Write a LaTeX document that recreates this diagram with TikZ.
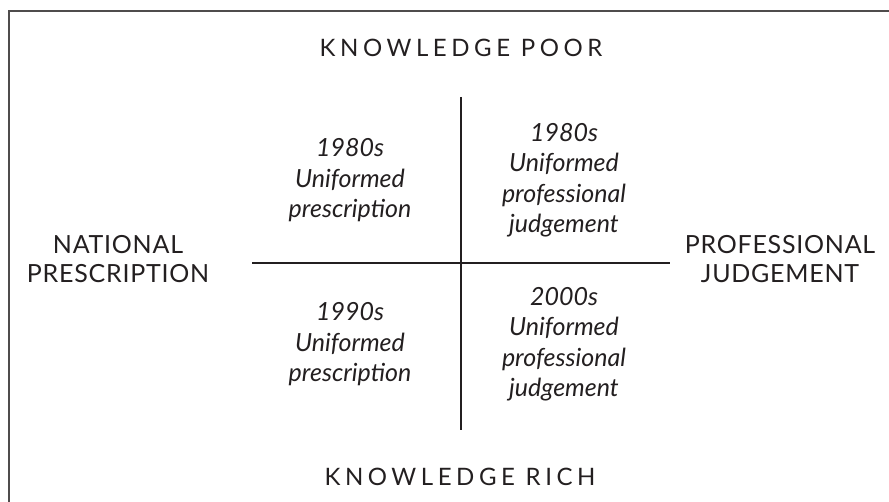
\documentclass[tikz,border=0pt]{standalone}
\usepackage{fontspec}
\setmainfont{Lato}
\usepackage{color}
\definecolor{ink}{HTML}{231F20}

\begin{document}
\begin{tikzpicture}[x=1pt,y=-1pt,
  axislabel/.style={text=ink, align=center, anchor=base, font=\fontsize{24}{29}\selectfont\addfontfeatures{LetterSpace=19}},
  sidelabel/.style={text=ink, align=center, anchor=base, font=\fontsize{25}{29}\selectfont\addfontfeatures{LetterSpace=3}},
  cell/.style={text=ink, align=center, anchor=base, font=\fontsize{25}{30.5}\itshape\selectfont}]
\useasboundingbox (0,0) rectangle (889,502);
\draw[ink!80, line width=2pt] (889,11) -- (9,11) -- (9,502);
% axes
\coordinate (top) at (461,97);
\coordinate (bottom) at (461,430);
\coordinate (left) at (252,263);
\coordinate (right) at (670,263);
\draw[ink, line width=2.4pt] (top) -- (bottom);
\draw[ink, line width=2.4pt] (left) -- (right);
% axis labels (base = last line)
\node[axislabel] (poor) at (461,57) {KNOWLEDGE POOR};
\node[axislabel] (rich) at (460,485) {KNOWLEDGE RICH};
\node[sidelabel] (national) at (118,283) {NATIONAL\\PRESCRIPTION};
\node[sidelabel] (professional) at (780,283) {PROFESSIONAL\\JUDGEMENT};
% quadrants
\node[cell] (tl) at (350,218) {1980s\\Uniformed\\prescription};
\node[cell] (tr) at (564,233) {1980s\\Uniformed\\professional\\judgement};
\node[cell] (bl) at (350,382) {1990s\\Uniformed\\prescription};
\node[cell] (br) at (564,397) {2000s\\Uniformed\\professional\\judgement};
\end{tikzpicture}
\end{document}
